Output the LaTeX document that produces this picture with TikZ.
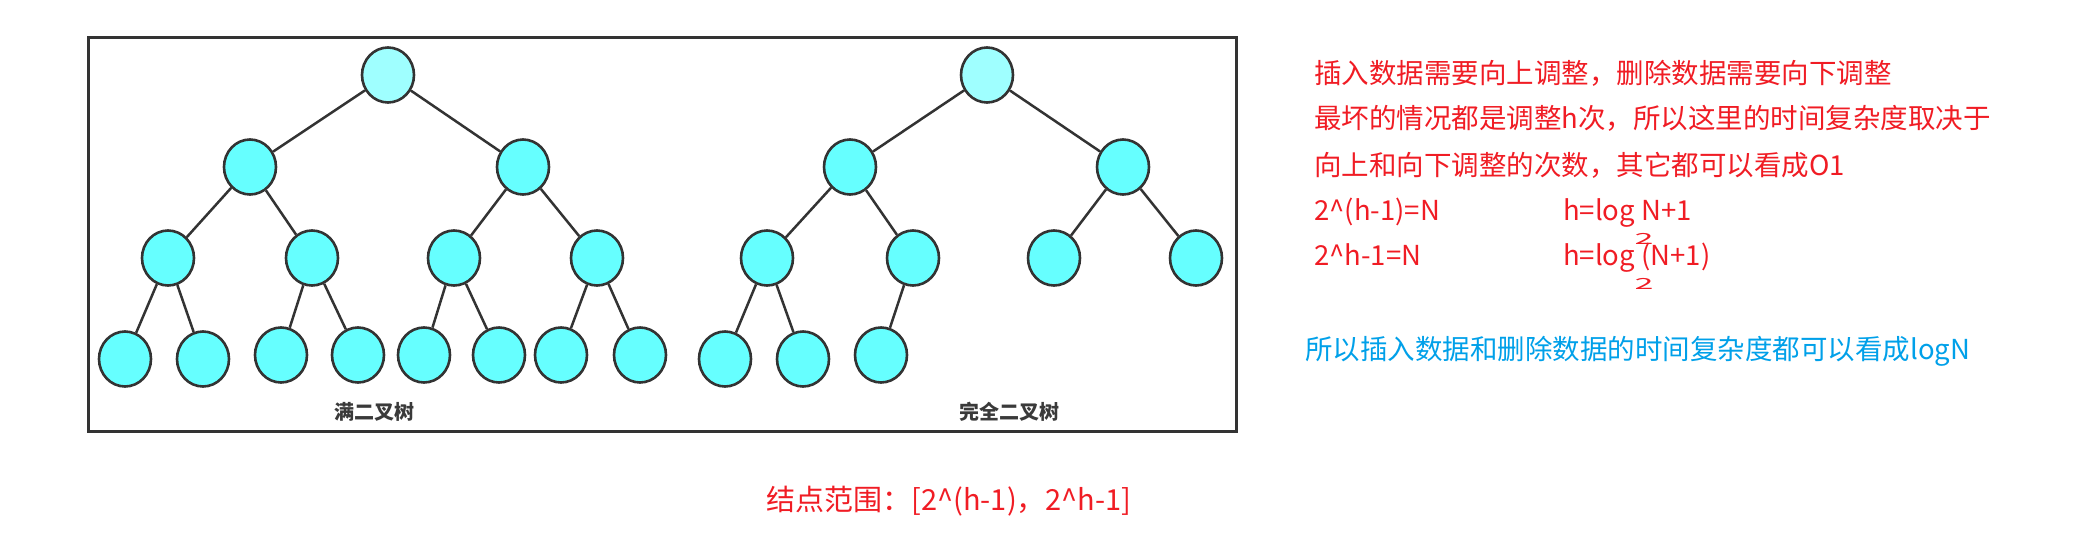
\documentclass[tikz,border=0pt]{standalone}
\usepackage{fontspec}
\setmainfont{Noto Sans CJK SC}
\usetikzlibrary{shapes.geometric}
\definecolor{redc}{RGB}{240,28,36}
\definecolor{bluec}{RGB}{0,160,233}
\definecolor{nodec}{HTML}{66FFFF}
\definecolor{rootc}{HTML}{9FFFFF}
\definecolor{linec}{HTML}{333333}
\definecolor{labelc}{HTML}{3A3A3A}
\tikzset{
  tn/.style={ellipse, draw=linec, line width=2.6pt, fill=nodec, minimum width=52pt, minimum height=55pt, inner sep=0pt},
  rootn/.style={tn, fill=rootc},
  treeline/.style={draw=linec, line width=2.5pt},
  rtext/.style={anchor=west, text=redc, font=\fontsize{27.5}{30}\selectfont, inner sep=0pt, text height=0.8em, text depth=0.2em},
  btext/.style={rtext, text=bluec},
  tlabel/.style={font=\fontsize{20}{22}\selectfont\bfseries, text=labelc, inner sep=0pt},
  hand/.style={text=redc, font=\fontsize{17}{18}\selectfont, inner sep=0pt},
}
\begin{document}
\begin{tikzpicture}[x=1pt,y=-1pt]
\useasboundingbox (0,0) rectangle (2097,554);
% frame
\node[draw=linec, line width=3pt, minimum width=1148pt, minimum height=394pt, inner sep=0pt] (frame) at (662,234) {};
% full binary tree
\node[rootn] (a) at (388,75) {};
\node[tn] (a1) at (250,167) {};
\node[tn] (a2) at (523,167) {};
\node[tn] (a11) at (168,258) {};
\node[tn] (a12) at (312,258) {};
\node[tn] (a21) at (454,258) {};
\node[tn] (a22) at (597,258) {};
\node[tn] (a111) at (125,359) {};
\node[tn] (a112) at (203,359) {};
\node[tn] (a121) at (281,355) {};
\node[tn] (a122) at (358,355) {};
\node[tn] (a211) at (424,355) {};
\node[tn] (a212) at (499,355) {};
\node[tn] (a221) at (561,355) {};
\node[tn] (a222) at (640,355) {};
\foreach \p/\c in {a/a1,a/a2,a1/a11,a1/a12,a2/a21,a2/a22,a11/a111,a11/a112,a12/a121,a12/a122,a21/a211,a21/a212,a22/a221,a22/a222}
  \draw[treeline] (\p) -- (\c);
\node[tlabel] (la) at (374,412) {满二叉树};
% complete binary tree
\node[rootn] (b) at (987,75) {};
\node[tn] (b1) at (850,167) {};
\node[tn] (b2) at (1123,167) {};
\node[tn] (b11) at (767,258) {};
\node[tn] (b12) at (913,258) {};
\node[tn] (b21) at (1054,258) {};
\node[tn] (b22) at (1196,258) {};
\node[tn] (b111) at (725,359) {};
\node[tn] (b112) at (803,359) {};
\node[tn] (b121) at (881,355) {};
\foreach \p/\c in {b/b1,b/b2,b1/b11,b1/b12,b2/b21,b2/b22,b11/b111,b11/b112,b12/b121}
  \draw[treeline] (\p) -- (\c);
\node[tlabel] (lb) at (1009,412) {完全二叉树};
% right-hand notes
\node[rtext] (t1) at (1314,80) {插入数据需要向上调整，删除数据需要向下调整};
\node[rtext] (t2) at (1314,125) {最坏的情况都是调整h次，所以这里的时间复杂度取决于};
\node[rtext] (t3) at (1314,172) {向上和向下调整的次数，其它都可以看成O1};
\node[rtext] (t4) at (1314,217) {2\^{}(h-1)=N};
\node[rtext] (t4b) at (1563,217) {h=log N+1};
\node[rtext] (t5) at (1314,262) {2\^{}h-1=N};
\node[rtext] (t5b) at (1563,262) {h=log (N+1)};
\node[hand] (h1) at (1644,239) {\scalebox{2}[0.9]{2}};
\node[hand] (h2) at (1644,284) {\scalebox{2}[0.9]{2}};
\node[btext] (t6) at (1305,356) {所以插入数据和删除数据的时间复杂度都可以看成logN};
\node[rtext, anchor=center, font=\fontsize{29}{31}\selectfont] (t7) at (949,507) {结点范围：[2\^{}(h-1)，2\^{}h-1]};
\end{tikzpicture}
\end{document}
